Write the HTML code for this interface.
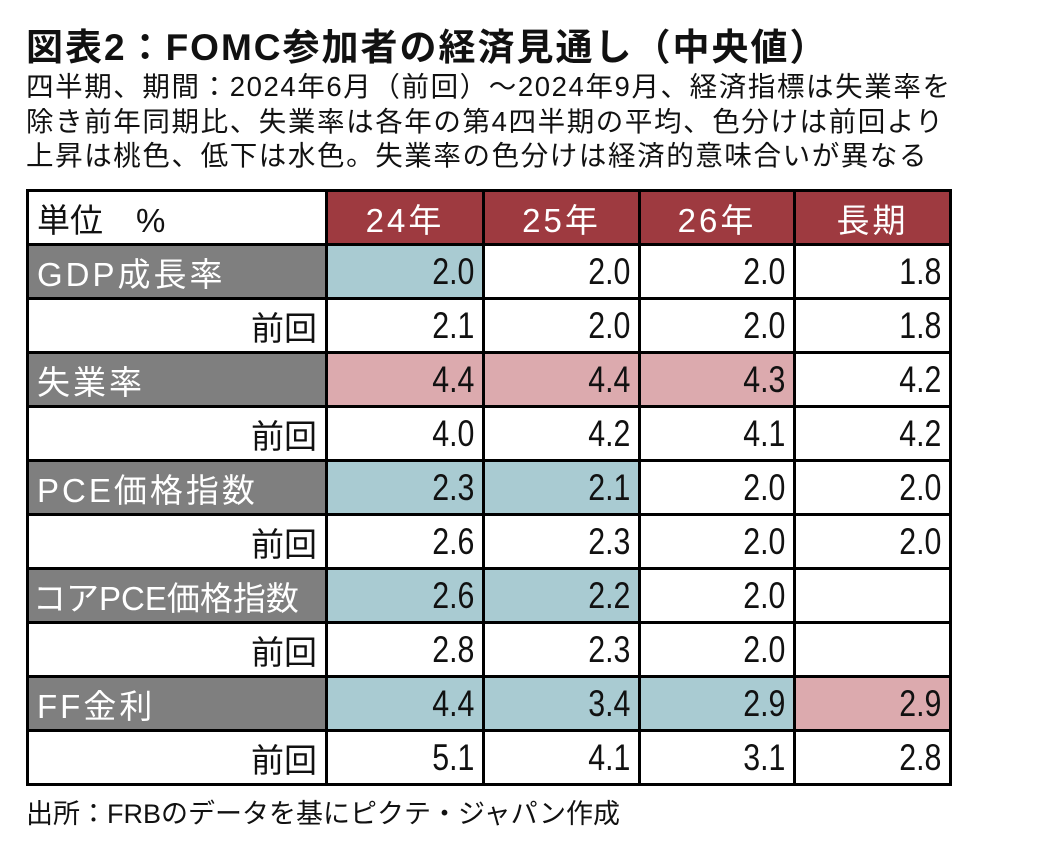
<!DOCTYPE html>
<html><head><meta charset="utf-8">
<style>
body{margin:0;width:1052px;height:848px;background:#fff;font-family:"Liberation Sans","Noto Sans CJK JP",sans-serif;color:#111;position:relative;overflow:hidden}
.t{position:absolute;left:26px;white-space:nowrap}
#title{top:17px;font-size:37px;font-weight:bold;letter-spacing:2px}
.sub{font-size:27.5px;line-height:34.5px;letter-spacing:1.6px}
table{position:absolute;left:26px;top:189px;border-collapse:collapse}
td{border:3px solid #000;height:48px;padding:0 8px;font-size:33px;text-align:right;box-sizing:border-box}
td.h{background:#9e3a40;color:#fff;text-align:center;letter-spacing:3px}
td.g{background:#7f7f7f;color:#fff;text-align:left;letter-spacing:3px}
td.b{background:#a9cbd2}
td.p{background:#dcaaae}
td.l{text-align:left}
td span{display:inline-block;font-size:37px;transform:scaleX(0.82);transform-origin:right center}
</style></head><body>
<div class="t" id="title">図表2：FOMC参加者の経済見通し（中央値）</div>
<div class="t sub" style="top:70px">四半期、期間：2024年6月（前回）～2024年9月、経済指標は失業率を<br>除き前年同期比、失業率は各年の第4四半期の平均、色分けは前回より<br>上昇は桃色、低下は水色。失業率の色分けは経済的意味合いが異なる</div>
<table>
<colgroup><col style="width:299px"><col style="width:157px"><col style="width:156px"><col style="width:155px"><col style="width:156px"></colgroup>
<tr style="height:54px"><td class="l">単位　%</td><td class="h">24年</td><td class="h">25年</td><td class="h">26年</td><td class="h">長期</td></tr>
<tr style="height:54px"><td class="g">GDP成長率</td><td class="b"><span>2.0</span></td><td><span>2.0</span></td><td><span>2.0</span></td><td><span>1.8</span></td></tr>
<tr style="height:54px"><td>前回</td><td><span>2.1</span></td><td><span>2.0</span></td><td><span>2.0</span></td><td><span>1.8</span></td></tr>
<tr style="height:54px"><td class="g">失業率</td><td class="p"><span>4.4</span></td><td class="p"><span>4.4</span></td><td class="p"><span>4.3</span></td><td><span>4.2</span></td></tr>
<tr style="height:54px"><td>前回</td><td><span>4.0</span></td><td><span>4.2</span></td><td><span>4.1</span></td><td><span>4.2</span></td></tr>
<tr style="height:54px"><td class="g">PCE価格指数</td><td class="b"><span>2.3</span></td><td class="b"><span>2.1</span></td><td><span>2.0</span></td><td><span>2.0</span></td></tr>
<tr style="height:54px"><td>前回</td><td><span>2.6</span></td><td><span>2.3</span></td><td><span>2.0</span></td><td><span>2.0</span></td></tr>
<tr style="height:54px"><td class="g" style="letter-spacing:0;padding-left:4px">コアPCE価格指数</td><td class="b"><span>2.6</span></td><td class="b"><span>2.2</span></td><td><span>2.0</span></td><td></td></tr>
<tr style="height:54px"><td>前回</td><td><span>2.8</span></td><td><span>2.3</span></td><td><span>2.0</span></td><td></td></tr>
<tr style="height:54px"><td class="g">FF金利</td><td class="b"><span>4.4</span></td><td class="b"><span>3.4</span></td><td class="b"><span>2.9</span></td><td class="p"><span>2.9</span></td></tr>
<tr style="height:54px"><td>前回</td><td><span>5.1</span></td><td><span>4.1</span></td><td><span>3.1</span></td><td><span>2.8</span></td></tr>
</table>
<div class="t" style="top:792px;font-size:27px">出所：FRBのデータを基にピクテ・ジャパン作成</div>
</body></html>
